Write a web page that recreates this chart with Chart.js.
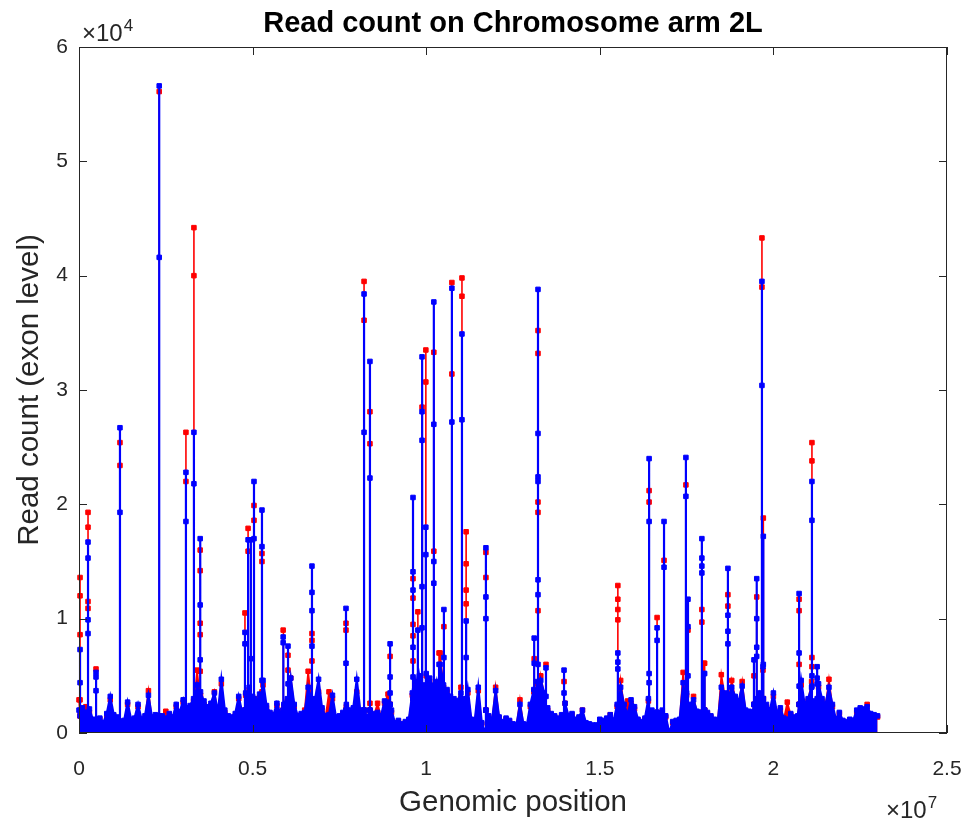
<!DOCTYPE html>
<html>
<head>
<meta charset="utf-8">
<title>Read count on Chromosome arm 2L</title>
<script src="https://cdn.jsdelivr.net/npm/chart.js@4.4.1/dist/chart.umd.min.js"></script>
<style>
  html, body { margin: 0; padding: 0; background: #fff; overflow: hidden; }
  #myChart { display: block; }
</style>
</head>
<body>
<canvas id="myChart" width="973" height="825"></canvas>
<script>
// background counts in 0.1 Mb bins along the arm (bin i starts at i * 0.1 Mb)
const binWidthMb = 0.1
const binBlue = [
  2000, 2200, 1800, 2100, 1200, 1000, 1300, 900, 1700, 3200,
  1600, 1400, 1000, 1100, 2700, 1200, 1300, 2500, 1200, 1500,
  3300, 1400, 1600, 1000, 1500, 1300, 1700, 1400, 2500, 1800,
  2900, 2200, 2400, 3000, 4200, 3600, 2800, 2300, 2600, 3500,
  1800, 4700, 2000, 1500, 1400, 1700, 3200, 1800, 3500, 4000,
  3200, 2600, 3400, 4600, 2400, 1800, 1600, 2600, 1700, 2500,
  3000, 4800, 2500, 1500, 1700, 1800, 4000, 2800, 3000, 4700,
  2200, 1500, 1600, 3300, 1400, 1500, 1800, 2500, 2000, 2200,
  4700, 2000, 1800, 1400, 1600, 1700, 1800, 1500, 2800, 2700,
  2000, 900, 1100, 800, 1000, 1200, 3500, 4500, 5000, 4200,
  5200, 4800, 4000, 4500, 6000, 4200, 3800, 3200, 3000, 2800,
  3500, 3000, 3800, 1200, 1100, 4000, 900, 0, 1500, 1200,
  3700, 1400, 1000, 1300, 1100, 800, 700, 2500, 800, 700,
  2500, 3800, 4500, 4600, 3500, 2200, 1700, 1500, 1300, 1600,
  2600, 1500, 1700, 1200, 1400, 2000, 900, 800, 700, 700,
  1200, 1100, 1300, 1600, 1100, 2500, 4000, 2500, 1600, 2900,
  2300, 1200, 1000, 1300, 3000, 2000, 1800, 1600, 2000, 1500,
  0, 1000, 1100, 1200, 4400, 3500, 2500, 2900, 1900, 1600,
  5200, 1800, 1500, 1200, 1100, 4000, 3500, 3000, 4000, 3200,
  2800, 4100, 2000, 1900, 1800, 3000, 3500, 5800, 2500, 2000,
  3500, 1800, 2200, 1300, 1200, 1700, 1400, 1500, 4600, 2500,
  3000, 4000, 2800, 4300, 3000, 2500, 4000, 2500, 1200, 1800,
  1100, 1000, 1200, 1100, 2000, 2200, 2100, 2300, 1700, 1600,
  1500
]
const binRed = [
  2900, 2000, 2300, 1800, 1100, 900, 1200, 800, 1500, 2900,
  1500, 1200, 900, 1000, 2500, 1000, 1200, 2300, 1100, 1300,
  3700, 1200, 1400, 900, 1300, 1900, 1500, 1200, 2300, 1600,
  2700, 2000, 2200, 2800, 5500, 3300, 2500, 2100, 2400, 3600,
  1600, 4300, 1800, 1400, 1300, 1500, 3000, 1700, 3300, 3800,
  3000, 2400, 3100, 4200, 2200, 1700, 1500, 2400, 1600, 2300,
  2800, 4800, 2300, 1400, 1600, 2000, 5400, 2600, 2800, 3600,
  2000, 1400, 3600, 3000, 1300, 1400, 1700, 2300, 1800, 2000,
  3600, 1800, 1700, 1300, 1500, 1600, 2600, 1400, 2600, 3400,
  1800, 800, 1000, 700, 900, 1100, 3300, 4200, 4600, 4000,
  5000, 4500, 3800, 4300, 7000, 4000, 3600, 3000, 2800, 2600,
  4000, 2800, 3500, 1100, 1000, 3700, 800, 0, 1400, 1100,
  4000, 1300, 900, 1200, 1000, 700, 600, 2900, 700, 600,
  2300, 3600, 4300, 5000, 3300, 2000, 1600, 1400, 1200, 1500,
  2600, 1400, 1600, 1100, 1300, 2000, 800, 700, 600, 600,
  1100, 1000, 1200, 1600, 1000, 2300, 4600, 2300, 2800, 2600,
  2100, 1100, 900, 1200, 2800, 1800, 1700, 1500, 1800, 1400,
  0, 900, 1000, 1100, 5300, 3300, 2300, 3200, 1700, 1500,
  6100, 1700, 1400, 1100, 1000, 5100, 3300, 2800, 4600, 3000,
  2600, 4500, 1800, 1800, 1700, 2800, 3300, 5500, 2300, 1800,
  3200, 1700, 2000, 1200, 2700, 1600, 1300, 1400, 4200, 2300,
  2800, 4500, 2600, 4000, 2800, 2300, 4700, 2300, 1100, 1700,
  1000, 900, 1100, 1000, 1800, 2000, 2000, 2500, 1600, 1500,
  1400
]

// highly expressed exon clusters: position (Mb) and the exon counts stacked there
const peakPos = [0.03, 0.26, 0.49, 1.18, 2.31, 3.08, 3.31, 3.49, 4.78, 4.87,
  4.95, 5.04, 5.27, 5.88, 6.02, 6.71, 7.69, 8.21, 8.38, 8.96,
  9.62, 9.76, 9.88, 9.99, 10.22, 10.37, 10.51, 10.74, 11.03, 11.15,
  11.72, 13.11, 13.22, 13.45, 13.97, 15.52, 16.42, 16.65, 16.85, 17.48,
  17.54, 17.94, 18.02, 18.69, 19.44, 19.52, 19.67, 19.71, 20.74, 21.11,
  21.26]
const peakBlue = [
  [1500, 7300, 4400, 2000], [1800, 16700, 15300, 9900, 8700, 1800], [1000, 5300, 4900, 3700, 1000],
  [1000, 26700, 19300, 1000], [1500, 56600, 41600, 1500], [2000, 22800, 18500, 2000],
  [2500, 26300, 21800, 2500], [3000, 17000, 11200, 6400, 3000], [2000, 8800, 7800, 2000],
  [2500, 16900, 2500], [2500, 16900, 6500, 2500], [3000, 22000, 17000, 3000],
  [2500, 19500, 16300, 4600, 2500], [2000, 8400, 7900, 2000], [2500, 7600, 4300, 2500],
  [2500, 14600, 12300, 10700, 7600, 2500], [2000, 10900, 6100, 2000], [2000, 38400, 26300, 2000],
  [2000, 32500, 22300, 2000], [2500, 7800, 4900, 3500, 2500], [3000, 20600, 14100, 12500, 7500, 4900, 3000],
  [3000, 9000, 3000], [3500, 32900, 28100, 25600, 12800, 9200, 3500], [3500, 18000, 15600, 3500],
  [3500, 37700, 27000, 15000, 13100, 3500], [3000, 6000, 3000], [3000, 10800, 6600, 3000],
  [2500, 38900, 27200, 2500], [2500, 34900, 27400, 2500], [2500, 9800, 6600, 2500],
  [2000, 16200, 11900, 10000, 2000], [2000, 8300, 6100, 2000],
  [2500, 38800, 26200, 22400, 22000, 13400, 12100, 6000, 2500], [2000, 5700, 3200, 2000],
  [1500, 5500, 3500, 1500], [1500, 7000, 6200, 5600, 1500], [1800, 24000, 18500, 5200, 4400, 1800],
  [1800, 9200, 8100, 1800], [1500, 18500, 14500, 1500], [2000, 24100, 20700, 2000],
  [2000, 11700, 9300, 5000, 2000], [1800, 17000, 15300, 14600, 14000, 1800], [2000, 5200, 2000],
  [2500, 14400, 10300, 8900, 7800, 2500], [2500, 6400, 2500], [2500, 13500, 10000, 7500, 6700, 2500],
  [3000, 39500, 30400, 3000], [3000, 17200, 6000, 3000], [2500, 12200, 7000, 4100, 2500],
  [2500, 22000, 18600, 5000, 4100, 2500], [2500, 5800, 4800, 4300, 3000, 2500]
]
const peakRed = [
  [1500, 13600, 12000, 8600, 2900, 1500], [1800, 19300, 18000, 11500, 10900, 1800], [1000, 5600, 1000],
  [1000, 25400, 23400, 1000], [1500, 56100, 1500], [2000, 26300, 22000, 2000],
  [2500, 44200, 40000, 2500], [3000, 16000, 14200, 9600, 8600, 5400, 3000], [2000, 10500, 2000],
  [2500, 17900, 15900, 2500], [], [3000, 19900, 18600, 3000],
  [2500, 15700, 15000, 3600, 2500], [2000, 9000, 2000], [2500, 6800, 5500, 2500],
  [2500, 8700, 8100, 6300, 2500], [2000, 9600, 9000, 2000], [2000, 39500, 36100, 2000],
  [2000, 28100, 25300, 2600, 2000], [2500, 6700, 2500], [3000, 13500, 11800, 9500, 8500, 6300, 3000],
  [3000, 10600, 3000], [3500, 28500, 3500], [3500, 33500, 30700, 3500],
  [3500, 33300, 15900, 3500], [3000, 7000, 3000], [3000, 9300, 3000],
  [2500, 39400, 31400, 2500], [2500, 39800, 38200, 2500], [2500, 17600, 14800, 12500, 11300, 2500],
  [2000, 15800, 13600, 2000], [2000, 6500, 2000],
  [2500, 35200, 33200, 20200, 19300, 10700, 2500], [2000, 6000, 2000],
  [1500, 4500, 1500], [1500, 12900, 11700, 10800, 9900, 1500], [1800, 21200, 20200, 1800],
  [1800, 10100, 1800], [1500, 15100, 1500], [2000, 21700, 2000],
  [2000, 9000, 2000], [1800, 10800, 9700, 1800], [2000, 6100, 2000],
  [2500, 12100, 11100, 2500], [2500, 5000, 2500], [2500, 11900, 2500],
  [3000, 43300, 39000, 3000], [3000, 18800, 3000], [2500, 11700, 10700, 6000, 2500],
  [2500, 25400, 23800, 6600, 5800, 2500], []
]

const xTicks = [0, 0.5, 1, 1.5, 2, 2.5]   // x 10^7
const yTicks = [0, 1, 2, 3, 4, 5, 6]      // x 10^4

const FONT = '"Liberation Sans", Arial, Helvetica, sans-serif'
const INK = '#262626'

function buildSeries(bins, peaks) {
  const pts = bins.map((v, i) => ({ x: Math.round(i * binWidthMb * 1e6), y: v }))
  peakPos.forEach((p, k) => peaks[k].forEach(v => pts.push({ x: Math.round(p * 1e6), y: v })))
  // stable sort keeps the exons of one cluster in their listed order
  return pts.sort((a, b) => a.x - b.x)
}

// MATLAB style box, inward ticks, title, labels and exponents
const matlabAxes = {
  id: 'matlabAxes',
  afterDraw(chart) {
    const { ctx, chartArea: a, scales } = chart
    ctx.save()
    ctx.strokeStyle = INK
    ctx.lineWidth = 1
    ctx.strokeRect(a.left + 0.5, a.top + 0.5, a.right - a.left - 1, a.bottom - a.top - 1)
    const tl = 8
    ctx.beginPath()
    scales.x.ticks.forEach(t => {
      const px = Math.round(scales.x.getPixelForValue(t.value)) + 0.5
      ctx.moveTo(px, a.bottom); ctx.lineTo(px, a.bottom - tl)
      ctx.moveTo(px, a.top); ctx.lineTo(px, a.top + tl)
    })
    scales.y.ticks.forEach(t => {
      const py = Math.round(scales.y.getPixelForValue(t.value)) + 0.5
      ctx.moveTo(a.left, py); ctx.lineTo(a.left + tl, py)
      ctx.moveTo(a.right, py); ctx.lineTo(a.right - tl, py)
    })
    ctx.stroke()

    ctx.fillStyle = '#000'
    ctx.textAlign = 'center'
    ctx.textBaseline = 'alphabetic'
    ctx.font = 'bold 29px ' + FONT
    ctx.fillText('Read count on Chromosome arm 2L', (a.left + a.right) / 2, 32)

    ctx.fillStyle = INK
    ctx.font = '29.5px ' + FONT
    ctx.fillText('Genomic position', (a.left + a.right) / 2, 811)
    ctx.save()
    ctx.translate(30, (a.top + a.bottom) / 2)
    ctx.rotate(-Math.PI / 2)
    ctx.textBaseline = 'middle'
    ctx.fillText('Read count (exon level)', 0, 0)
    ctx.restore()

    // axis exponents
    ctx.textAlign = 'left'
    ctx.font = '24px ' + FONT
    const w = ctx.measureText('\u00d710').width
    ctx.fillText('\u00d710', 82, 41)
    ctx.fillText('\u00d710', 886, 818)
    ctx.font = '17px ' + FONT
    ctx.fillText('4', 82 + w + 1, 31)
    ctx.fillText('7', 886 + w + 1, 808)
    ctx.restore()
  }
}

const series = (label, color, width, data) => ({
  label, data,
  showLine: true,
  borderColor: color,
  backgroundColor: color,
  borderWidth: width,
  pointStyle: 'rect',
  pointRadius: 3.2,
  pointBorderWidth: 1,
  pointBorderColor: color,
  pointBackgroundColor: color,
  fill: 'origin',
  tension: 0,
  clip: { left: 4, top: 4, right: 4, bottom: 0 }
})

const ctx = document.getElementById('myChart')
new Chart(ctx, {
  type: 'scatter',
  data: {
    datasets: [
      series('sample 1', '#0000ff', 2.2, buildSeries(binBlue, peakBlue)),
      series('sample 2', '#ff0000', 1.6, buildSeries(binRed, peakRed))
    ]
  },
  options: {
    responsive: false,
    animation: false,
    events: [],
    layout: { padding: { left: 0, right: 26, top: 47, bottom: 0 } },
    plugins: { legend: { display: false }, tooltip: { enabled: false }, title: { display: false } },
    scales: {
      x: {
        type: 'linear', min: 0, max: 25e6,
        afterBuildTicks: s => { s.ticks = xTicks.map(v => ({ value: v * 1e7 })) },
        afterFit: s => { s.height = 92; s.paddingLeft = 0; s.paddingRight = 0 },
        grid: { display: false, drawTicks: false },
        border: { display: false },
        ticks: { color: INK, padding: 24, maxRotation: 0, font: { family: FONT, size: 21 }, callback: v => String(v / 1e7) }
      },
      y: {
        type: 'linear', min: 0, max: 60000,
        afterBuildTicks: s => { s.ticks = yTicks.map(v => ({ value: v * 1e4 })) },
        afterFit: s => { s.width = 79; s.paddingTop = 0; s.paddingBottom = 0 },
        grid: { display: false, drawTicks: false },
        border: { display: false },
        ticks: { color: INK, padding: 11, font: { family: FONT, size: 21 }, callback: v => String(v / 1e4) }
      }
    }
  },
  plugins: [matlabAxes]
})
</script>
</body>
</html>
